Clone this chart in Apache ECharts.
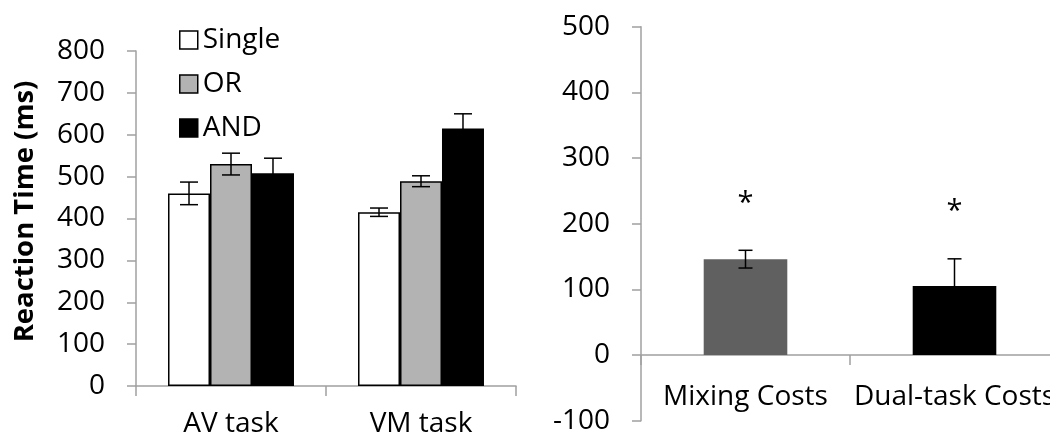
<!DOCTYPE html>
<html>
<head>
<meta charset="utf-8">
<script src="https://cdn.jsdelivr.net/npm/echarts@6/dist/echarts.min.js"></script>
<style>
html,body{margin:0;padding:0;background:#fff;}
#chart{width:1050px;height:439px;}
</style>
</head>
<body>
<div id="chart"></div>
<script>
// ---- Data ----
var tasks = ['AV task', 'VM task'];
var conditions = ['Single', 'OR', 'AND'];
var singleRT = [460, 415];
var orRT = [530, 489];
var andRT = [508, 615];
var singleErr = [27, 10];
var orErr = [26, 13];
var andErr = [36, 35];

var costCats = ['Mixing Costs', 'Dual-task Costs'];
var costValues = [146, 105];
var costErr = [13.5, 41.5];
var starY = [240, 228];

var leftTicks = [0, 100, 200, 300, 400, 500, 600, 700, 800];
var rightTicks = [-100, 0, 100, 200, 300, 400, 500];

// ---- Styles ----
var FONT = 'Open Sans';
var FS = 28;
var AXIS_COLOR = '#a0a0a0';
var condColors = ['#ffffff', '#b3b3b3', '#000000'];
var costColors = ['#606060', '#000000'];
var CAT_GAP = 0.337;

var chart = echarts.init(document.getElementById('chart'));

var condValues = [singleRT, orRT, andRT];
var condErrs = [singleErr, orErr, andErr];

var series = [];
conditions.forEach(function (c, i) {
  series.push({
    name: c, type: 'bar', xAxisIndex: 0, yAxisIndex: 0,
    data: condValues[i],
    barGap: '0%', barCategoryGap: (CAT_GAP * 100) + '%',
    itemStyle: { color: condColors[i], borderColor: '#000', borderWidth: 1.5 },
    emphasis: { disabled: true },
    z: 2
  });
});

// error bars for left chart
conditions.forEach(function (c, i) {
  series.push({
    type: 'custom', xAxisIndex: 0, yAxisIndex: 0, z: 5,
    data: condValues[i].map(function (v, k) { return [k, v, condErrs[i][k]]; }),
    renderItem: function (params, api) {
      var band = api.size([1, 0])[0];
      var bw = band * (1 - CAT_GAP) / 3;
      var off = (i - 1) * bw;
      var hi = api.coord([api.value(0), api.value(1) + api.value(2)]);
      var lo = api.coord([api.value(0), api.value(1) - api.value(2)]);
      var x = hi[0] + off;
      var cap = 9;
      var st = { stroke: '#000', lineWidth: 1.5 };
      return { type: 'group', children: [
        { type: 'line', shape: { x1: x, y1: hi[1], x2: x, y2: lo[1] }, style: st },
        { type: 'line', shape: { x1: x - cap, y1: hi[1], x2: x + cap, y2: hi[1] }, style: st },
        { type: 'line', shape: { x1: x - cap, y1: lo[1], x2: x + cap, y2: lo[1] }, style: st }
      ]};
    }
  });
});

// right chart bars
series.push({
  type: 'bar', xAxisIndex: 1, yAxisIndex: 1, barWidth: '40%',
  data: costValues.map(function (v, k) { return { value: v, itemStyle: { color: costColors[k] } }; }),
  emphasis: { disabled: true }, z: 2
});
series.push({
  type: 'custom', xAxisIndex: 1, yAxisIndex: 1, z: 5,
  data: costValues.map(function (v, k) { return [k, v, costErr[k]]; }),
  renderItem: function (params, api) {
    var hi = api.coord([api.value(0), api.value(1) + api.value(2)]);
    var lo = api.coord([api.value(0), api.value(1) - api.value(2)]);
    var x = hi[0];
    var cap = 7;
    var st = { stroke: '#000', lineWidth: 1.5 };
    return { type: 'group', children: [
      { type: 'line', shape: { x1: x, y1: hi[1], x2: x, y2: lo[1] }, style: st },
      { type: 'line', shape: { x1: x - cap, y1: hi[1], x2: x + cap, y2: hi[1] }, style: st },
      { type: 'line', shape: { x1: x - cap, y1: lo[1], x2: x + cap, y2: lo[1] }, style: st }
    ]};
  }
});
// asterisks (glyph sits high in its em box, so nudge the text down)
series.push({
  type: 'custom', xAxisIndex: 1, yAxisIndex: 1, z: 6,
  data: starY.map(function (v, k) { return [k, v]; }),
  renderItem: function (params, api) {
    var p = api.coord([api.value(0), api.value(1)]);
    return { type: 'text', x: p[0], y: p[1] + 6, style: {
      text: '*', fontFamily: FONT, fontSize: 29, fill: '#000',
      textAlign: 'center', textVerticalAlign: 'middle'
    }};
  }
});
// category labels of right chart, placed under the zero line
series.push({
  type: 'custom', xAxisIndex: 1, yAxisIndex: 1, z: 6,
  data: costCats.map(function (c, k) { return [k, 0]; }),
  renderItem: function (params, api) {
    var p = api.coord([api.value(0), api.value(1)]);
    return { type: 'text', x: p[0], y: p[1] + 42, style: {
      text: costCats[params.dataIndex], fontFamily: FONT, fontSize: FS, fill: '#000',
      textAlign: 'center', textVerticalAlign: 'middle'
    }};
  }
});

var tickLabel = { fontFamily: FONT, fontSize: FS, color: '#000', margin: 31 };
var axisLine = { show: true, onZero: true, lineStyle: { color: AXIS_COLOR, width: 1.5 } };

chart.setOption({
  animation: false,
  backgroundColor: '#fff',
  grid: [
    { left: 136, top: 51, width: 380, height: 335, outerBoundsMode: 'none', containLabel: false },
    { left: 641, top: 26.7, width: 418, height: 394, outerBoundsMode: 'none', containLabel: false }
  ],
  legend: {
    orient: 'vertical', left: 179, top: 26, padding: 0,
    itemWidth: 18, itemHeight: 18, itemGap: 16, itemTextGap: 7,
    selectedMode: false,
    textStyle: { fontFamily: FONT, fontSize: 28, color: '#000', lineHeight: 27 },
    data: conditions.map(function (c, i) {
      return { name: c, icon: 'rect', itemStyle: { color: condColors[i], borderColor: '#000', borderWidth: 1.5 } };
    })
  },
  xAxis: [
    { type: 'category', gridIndex: 0, data: tasks,
      axisLine: axisLine,
      axisTick: { show: true, length: 10, lineStyle: { color: AXIS_COLOR, width: 1.5 } },
      axisLabel: { fontFamily: FONT, fontSize: FS, color: '#000', margin: 24 } },
    { type: 'category', gridIndex: 1, data: costCats,
      axisLine: axisLine,
      axisTick: { show: true, length: 10, lineStyle: { color: AXIS_COLOR, width: 1.5 } },
      axisLabel: { show: false } }
  ],
  yAxis: [
    { type: 'value', gridIndex: 0, min: leftTicks[0], max: leftTicks[leftTicks.length - 1], interval: 100,
      axisLine: { show: true, lineStyle: { color: AXIS_COLOR, width: 1.5 } },
      axisTick: { show: true, length: 9, lineStyle: { color: AXIS_COLOR, width: 1.5 } },
      splitLine: { show: false },
      axisLabel: tickLabel },
    { type: 'value', gridIndex: 1, min: rightTicks[0], max: rightTicks[rightTicks.length - 1], interval: 100,
      axisLine: { show: true, lineStyle: { color: AXIS_COLOR, width: 1.5 } },
      axisTick: { show: true, length: 9, lineStyle: { color: AXIS_COLOR, width: 1.5 } },
      splitLine: { show: false },
      axisLabel: tickLabel }
  ],
  graphic: [
    { type: 'text', x: 25, y: 211.5, rotation: Math.PI / 2,
      style: { text: 'Reaction Time (ms)', fontFamily: FONT, fontWeight: 'bold', fontSize: 27.5, fill: '#000',
        textAlign: 'center', textVerticalAlign: 'middle' } }
  ],
  series: series
});
</script>
</body>
</html>
